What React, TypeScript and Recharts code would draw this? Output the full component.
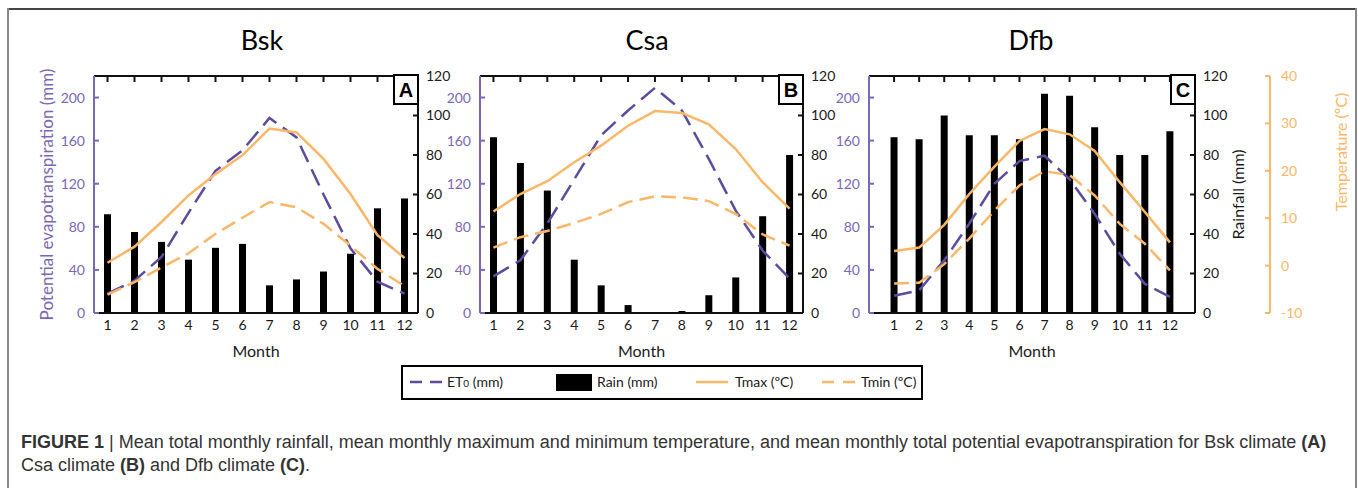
import React from 'react'
import { ComposedChart, Bar, Line, XAxis, YAxis } from 'recharts'

// month numbers on the x axis
const months = [1, 2, 3, 4, 5, 6, 7, 8, 9, 10, 11, 12]
const etTicks = [0, 40, 80, 120, 160, 200]
const rainTicks = [0, 20, 40, 60, 80, 100, 120]
const tempTicks = [-10, 0, 10, 20, 30, 40]

// Bsk (A)
const bskRain = [50, 41, 36, 27, 33, 35, 14, 17, 21, 30, 53, 58]
const bskEt0 = [18, 30, 52, 93, 132, 151, 181, 163, 110, 60, 29, 18]
const bskTmax = [0.6, 4.0, 9.2, 14.8, 19.3, 23.3, 28.9, 28.1, 22.5, 15.1, 6.4, 1.6]
const bskTmin = [-6.1, -3.5, -0.4, 2.6, 6.7, 10.1, 13.4, 12.3, 8.8, 4.2, -0.7, -4.3]

// Csa (B)
const csaRain = [89, 76, 62, 27, 14, 4, 0, 1, 9, 18, 49, 80]
const csaEt0 = [34, 49, 83, 124, 165, 188, 209, 188, 143, 95, 58, 32]
const csaTmax = [11.4, 15.1, 17.8, 21.8, 25.3, 29.5, 32.6, 32.2, 29.8, 24.6, 17.6, 12.0]
const csaTmin = [3.8, 6.0, 7.3, 9.0, 10.9, 13.4, 14.6, 14.4, 13.6, 10.9, 6.6, 4.2]

// Dfb (C)
const dfbRain = [89, 88, 100, 90, 90, 88, 111, 110, 94, 80, 80, 92]
const dfbEt0 = [16, 21, 49, 83, 120, 141, 146, 124, 92, 55, 27, 15]
const dfbTmax = [3.1, 3.8, 8.6, 15.1, 20.9, 26.3, 28.8, 27.7, 24.2, 17.6, 11.3, 4.9]
const dfbTmin = [-3.8, -3.6, 0.3, 5.7, 11.6, 16.9, 19.9, 19.1, 14.8, 8.8, 4.6, -1.0]

const PURPLE = '#5d4b9c'
const PURPLE_AXIS = '#7b67b6'
const ORANGE = '#fbb769'
const INK = '#1a1a1a'
const FRAME = '#111111'

type PanelProps = {
  rain: number[]
  et0: number[]
  tmax: number[]
  tmin: number[]
  left: number
  width: number
  leftW: number
  rainW: number
  xDomain: [number, number]
  etLabel?: boolean
  rainLabel?: boolean
  tempAxis?: boolean
}

function Panel(p: PanelProps) {
  const data = months.map((m, i) => ({
    m,
    rain: p.rain[i],
    et0: p.et0[i],
    tmax: p.tmax[i],
    tmin: p.tmin[i],
  }))

  return (
    <div style={{ position: 'absolute', left: p.left, top: 0 }}>
      <ComposedChart
        width={p.width}
        height={360}
        data={data}
        margin={{ top: 75, right: 0, bottom: 0, left: 0 }}
      >
        <XAxis
          xAxisId="top"
          orientation="top"
          dataKey="m"
          type="number"
          domain={p.xDomain}
          ticks={months}
          interval={0}
          height={1}
          tick={{ fill: 'none', fontSize: 1 }}
          tickSize={-6}
          stroke={FRAME}
          strokeWidth={2}
        />
        <XAxis
          dataKey="m"
          type="number"
          domain={p.xDomain}
          ticks={months}
          interval={0}
          height={47}
          tickLine={false}
          tickSize={0}
          tickMargin={7}
          stroke={FRAME}
          strokeWidth={2}
          tick={{ fill: INK, fontSize: 14, stroke: 'none' }}
          label={{ value: 'Month', position: 'insideBottom', offset: 3, fill: INK, fontSize: 16 }}
        />
        <YAxis
          yAxisId="et"
          orientation="left"
          width={p.leftW}
          type="number"
          domain={[0, 220]}
          ticks={etTicks}
          interval={0}
          tickSize={-5}
          tickMargin={14}
          stroke={PURPLE_AXIS}
          strokeWidth={2}
          tick={{ fill: PURPLE_AXIS, fontSize: 14, stroke: 'none' }}
          label={
            p.etLabel
              ? {
                  value: 'Potential evapotranspiration (mm)',
                  angle: -90,
                  position: 'insideLeft',
                  offset: 47,
                  fill: PURPLE_AXIS,
                  fontSize: 17,
                  style: { textAnchor: 'middle' },
                }
              : undefined
          }
        />
        <YAxis
          yAxisId="rain"
          orientation="right"
          width={p.rainW}
          type="number"
          domain={[0, 120]}
          ticks={rainTicks}
          interval={0}
          tickSize={-5}
          tickMargin={13}
          stroke={FRAME}
          strokeWidth={2}
          tick={{ fill: INK, fontSize: 14, stroke: 'none' }}
          label={
            p.rainLabel
              ? {
                  value: 'Rainfall (mm)',
                  angle: -90,
                  position: 'insideLeft',
                  offset: 43,
                  fill: INK,
                  fontSize: 16,
                  style: { textAnchor: 'middle' },
                }
              : undefined
          }
        />
        <YAxis
          yAxisId="t"
          orientation="right"
          hide={!p.tempAxis}
          width={88}
          type="number"
          domain={[-10, 40]}
          ticks={tempTicks}
          interval={0}
          tickSize={-5}
          tickMargin={16}
          stroke={ORANGE}
          strokeWidth={2}
          tick={{ fill: ORANGE, fontSize: 14, stroke: 'none' }}
        />
        <Bar yAxisId="rain" dataKey="rain" fill="#000" barSize={7} isAnimationActive={false} />
        <Line
          yAxisId="et"
          type="linear"
          dataKey="et0"
          stroke={PURPLE}
          strokeWidth={2.5}
          strokeDasharray="18 8"
          dot={false}
          activeDot={false}
          isAnimationActive={false}
        />
        <Line
          yAxisId="t"
          type="linear"
          dataKey="tmax"
          stroke={ORANGE}
          strokeWidth={2.5}
          dot={false}
          activeDot={false}
          isAnimationActive={false}
        />
        <Line
          yAxisId="t"
          type="linear"
          dataKey="tmin"
          stroke={ORANGE}
          strokeWidth={2.5}
          strokeDasharray="15 7"
          dot={false}
          activeDot={false}
          isAnimationActive={false}
        />
      </ComposedChart>
    </div>
  )
}

function PanelTag({ x, letter }: { x: number; letter: string }) {
  return (
    <g>
      <rect x={x - 24} y={75} width={24} height={29} fill="#fff" stroke="#000" strokeWidth={2} />
      <text x={x - 12} y={97} textAnchor="middle" fontSize={20} fontWeight="bold" fontFamily="Liberation Sans, Arial" fill="#000">
        {letter}
      </text>
    </g>
  )
}

export default function App() {
  return (
    <div
      style={{
        position: 'absolute',
        left: 0,
        top: 0,
        width: 1358,
        height: 488,
        background: '#fff',
        overflow: 'hidden',
        fontFamily: 'Lato, "Open Sans", sans-serif',
      }}
    >
      <Panel rain={bskRain} et0={bskEt0} tmax={bskTmax} tmin={bskTmin}
        left={0} width={470} leftW={94} rainW={52} xDomain={[0.5, 12.5]} etLabel />
      <Panel rain={csaRain} et0={csaEt0} tmax={csaTmax} tmin={csaTmin}
        left={420} width={435} leftW={60} rainW={52} xDomain={[0.5, 12.5]} />
      <Panel rain={dfbRain} et0={dfbEt0} tmax={dfbTmax} tmin={dfbTmin}
        left={809} width={549} leftW={60} rainW={75} xDomain={[0, 13]} rainLabel tempAxis />

      <svg width={1358} height={488} style={{ position: 'absolute', left: 0, top: 0, pointerEvents: 'none' }}>
        {/* figure frame */}
        <line x1={7} y1={9} x2={1357} y2={9} stroke="#444" strokeWidth={2} />
        <line x1={8} y1={8} x2={8} y2={488} stroke="#888" strokeWidth={2} />
        <line x1={1356} y1={8} x2={1356} y2={488} stroke="#888" strokeWidth={2} />

        {/* panel titles */}
        <text x={262} y={50} textAnchor="middle" fontSize={27} fill="#000">Bsk</text>
        <text x={647} y={50} textAnchor="middle" fontSize={27} fill="#000">Csa</text>
        <text x={1031} y={50} textAnchor="middle" fontSize={27} fill="#000">Dfb</text>

        <PanelTag x={418} letter="A" />
        <PanelTag x={803} letter="B" />
        <PanelTag x={1195} letter="C" />

        {/* temperature axis title */}
        <text transform="translate(1340,152) rotate(-90)" textAnchor="middle" dominantBaseline="central" fontSize={16} fill={ORANGE}>
          Temperature (ºC)
        </text>

        {/* shared legend */}
        <rect x={402} y={366} width={520} height={33} fill="#fff" stroke="#000" strokeWidth={2} />
        <line x1={410} y1={382} x2={442} y2={382} stroke={PURPLE} strokeWidth={2.5} strokeDasharray="12 8" />
        <text x={447} y={387} fontSize={14} fill={INK}>
          ET<tspan fontSize={10}>0</tspan> (mm)
        </text>
        <rect x={556} y={374} width={36} height={17} fill="#000" />
        <text x={597} y={387} fontSize={14} fill={INK}>Rain (mm)</text>
        <line x1={696} y1={382} x2={728} y2={382} stroke={ORANGE} strokeWidth={2.5} />
        <text x={735} y={387} fontSize={14} fill={INK}>Tmax (ºC)</text>
        <line x1={822} y1={382} x2={855} y2={382} stroke={ORANGE} strokeWidth={2.5} strokeDasharray="12 9" />
        <text x={861} y={387} fontSize={14} fill={INK}>Tmin (ºC)</text>

        {/* caption */}
        <g fontFamily="Liberation Sans, Arial, sans-serif" fontSize={18} fill="#333">
          <text x={21} y={448}>
            <tspan fontWeight="bold">FIGURE 1</tspan> | Mean total monthly rainfall, mean monthly maximum and minimum temperature, and mean monthly total potential evapotranspiration for Bsk climate <tspan fontWeight="bold">(A)</tspan>
          </text>
          <text x={21} y={471}>
            Csa climate <tspan fontWeight="bold">(B)</tspan> and Dfb climate <tspan fontWeight="bold">(C)</tspan>.
          </text>
        </g>
      </svg>
    </div>
  )
}
